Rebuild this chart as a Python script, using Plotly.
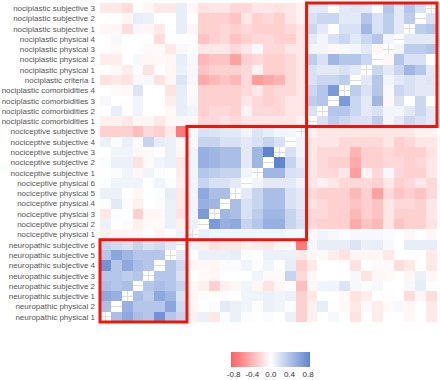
import plotly.graph_objects as go

# variable labels, bottom (index 0) to top (index 30); same order on x (left to right)
labels = [
    "neuropathic physical 1", "neuropathic physical 2",
    "neuropathic subjective 1", "neuropathic subjective 2", "neuropathic subjective 3",
    "neuropathic subjective 4", "neuropathic subjective 5", "neuropathic subjective 6",
    "nociceptive physical 1", "nociceptive physical 2", "nociceptive physical 3",
    "nociceptive physical 4", "nociceptive physical 5", "nociceptive physical 6",
    "nociceptive subjective 1", "nociceptive subjective 2", "nociceptive subjective 3",
    "nociceptive subjective 4", "nociceptive subjective 5",
    "nociplastic comorbidities 1", "nociplastic comorbidities 2",
    "nociplastic comorbidities 3", "nociplastic comorbidities 4",
    "nociplastic criteria 1",
    "nociplastic physical 1", "nociplastic physical 2", "nociplastic physical 3",
    "nociplastic physical 4",
    "nociplastic subjective 1", "nociplastic subjective 2", "nociplastic subjective 3",
]

# group sizes (for the outlined blocks)
group_names = ["neuropathic", "nociceptive", "nociplastic"]
group_sizes = [8, 11, 12]

# lower triangle of the correlation matrix: row i holds correlations with columns 0..i-1
corr_lower = [
    [],
    [0.45],
    [0.60, 0.55],
    [0.45, 0.40, 0.45],
    [0.40, 0.40, 0.35, 0.40],
    [0.75, 0.40, 0.60, 0.45, 0.40],
    [0.40, 0.62, 0.50, 0.40, 0.40, 0.40],
    [0.30, 0.25, 0.20, 0.30, 0.20, 0.25, 0.15],
    # nociceptive physical 1 .. subjective 5
    [-0.08, -0.05, -0.05, -0.05, 0.00, -0.05, 0.00, 0.08],
    [0.10, 0.00, 0.02, -0.08, -0.03, -0.03, 0.10, -0.08, 0.10],
    [-0.12, 0.02, 0.00, -0.25, -0.05, -0.05, 0.10, -0.15, 0.08, 0.70],
    [0.02, 0.15, 0.02, -0.08, 0.00, 0.02, 0.10, -0.12, 0.08, 0.55, 0.50],
    [0.10, 0.10, 0.00, -0.05, 0.00, 0.02, 0.12, -0.12, 0.08, 0.60, 0.45, 0.45],
    [0.02, 0.08, 0.08, 0.08, 0.00, 0.08, 0.02, -0.08, 0.08, 0.30, 0.20, 0.20, 0.15],
    [0.00, 0.02, 0.08, -0.05, 0.08, 0.02, 0.00, -0.10, 0.08, 0.40, 0.35, 0.30, 0.30, 0.08],
    [0.02, 0.10, 0.10, -0.15, -0.03, 0.08, 0.10, -0.12, 0.08, 0.55, 0.50, 0.45, 0.45, 0.15, 0.50],
    [0.00, 0.08, 0.08, -0.05, -0.03, 0.00, 0.10, -0.05, 0.08, 0.55, 0.50, 0.45, 0.45, 0.15, 0.50, 0.85],
    [0.10, 0.02, 0.10, 0.02, 0.30, 0.12, 0.10, -0.03, 0.05, 0.30, 0.30, 0.20, 0.20, 0.15, 0.20, 0.30, 0.20],
    [-0.25, -0.25, -0.25, -0.35, -0.20, -0.25, -0.12, -0.70, 0.05, 0.20, 0.18, 0.15, 0.15, 0.08, 0.18, 0.12, 0.08, 0.08],
    # nociplastic comorbidities 1 .. subjective 3
    [-0.08, -0.08, -0.12, -0.05, -0.05, -0.12, -0.05, 0.05,
     -0.05, -0.20, -0.20, -0.15, -0.20, -0.13, -0.13, -0.13, -0.13, -0.13, -0.07],
    [0.00, 0.12, 0.00, 0.08, 0.00, 0.00, -0.03, 0.12,
     0.08, -0.25, -0.20, -0.20, -0.25, -0.07, -0.20, -0.20, -0.20, -0.13, -0.13, 0.20],
    [0.05, 0.00, 0.00, 0.08, 0.00, 0.00, -0.10, 0.12,
     0.05, -0.25, -0.25, -0.25, -0.25, -0.13, -0.20, -0.25, -0.20, -0.13, -0.13, 0.35, 0.40],
    [0.00, -0.03, -0.03, 0.18, 0.00, 0.00, -0.15, 0.12,
     0.03, -0.25, -0.25, -0.25, -0.25, -0.20, -0.13, -0.25, -0.20, -0.20, -0.13, 0.28, 0.40, 0.70],
    [-0.15, -0.12, -0.15, 0.05, 0.05, -0.15, -0.05, 0.18,
     0.05, -0.45, -0.38, -0.32, -0.38, -0.20, -0.52, -0.45, -0.40, -0.20, -0.13, 0.20, 0.28, 0.28, 0.35],
    [0.00, -0.03, -0.10, 0.03, -0.15, 0.00, -0.05, 0.10,
     0.05, -0.32, -0.25, -0.25, -0.25, -0.20, -0.07, -0.25, -0.25, -0.20, -0.13, 0.20, 0.15, 0.15, 0.20, 0.15],
    [-0.10, -0.10, 0.00, 0.05, -0.05, -0.03, -0.05, 0.12,
     0.05, -0.38, -0.32, -0.32, -0.50, -0.25, -0.20, -0.25, -0.25, -0.20, -0.13, 0.35, 0.20, 0.50, 0.40, 0.40, 0.28],
    [0.00, -0.03, 0.00, 0.00, -0.03, -0.03, -0.12, 0.05,
     0.03, -0.13, -0.13, -0.13, -0.20, -0.13, 0.05, -0.20, -0.20, -0.13, -0.13, 0.07, 0.07, -0.04, 0.04, 0.07, 0.15, -0.04],
    [0.00, 0.05, 0.00, 0.00, 0.00, -0.18, 0.00, 0.00,
     0.00, -0.32, -0.25, -0.20, -0.32, -0.25, -0.20, -0.20, -0.25, -0.25, -0.13, 0.15, 0.07, 0.20, 0.28, 0.15, 0.28, 0.40, 0.07],
    [-0.05, -0.05, -0.18, 0.05, -0.05, -0.12, 0.00, 0.12,
     -0.05, -0.25, -0.25, -0.20, -0.25, -0.20, -0.25, -0.25, -0.25, -0.20, -0.13, 0.28, 0.15, 0.00, 0.20, 0.20, 0.50, 0.20, 0.35, 0.15],
    [0.00, 0.00, -0.05, 0.12, 0.10, 0.00, 0.00, 0.12,
     0.00, -0.25, -0.25, -0.25, -0.32, -0.13, -0.25, -0.20, -0.25, -0.13, -0.07, 0.20, 0.28, 0.28, 0.15, 0.15, 0.40, 0.20, 0.35, 0.15, 0.35],
    [-0.12, -0.12, -0.18, 0.00, -0.05, -0.12, -0.12, 0.12,
     -0.05, -0.15, -0.13, -0.13, -0.20, -0.20, -0.13, -0.13, -0.15, -0.13, -0.07, 0.15, 0.15, 0.00, 0.15, 0.17, 0.15, 0.00, 0.40, 0.15, 0.40, 0.20],
]

colorbar_ticks = [-0.8, -0.4, 0.0, 0.4, 0.8]
colorbar_ticktext = ["-0.8", "-0.4", "0.0", "0.4", "0.8"]

# build full symmetric matrix (diagonal left blank)
n = len(labels)
z = []
for i in range(n):
    row = []
    for j in range(n):
        if i == j:
            row.append(None)
        elif j < i:
            row.append(corr_lower[i][j])
        else:
            row.append(corr_lower[j][i])
    z.append(row)

FONT = "Liberation Sans, Arial, sans-serif"
TEXT = "#555555"

fig = go.Figure(go.Heatmap(
    z=z, x=labels, y=labels,
    zmin=-0.85, zmax=0.85,
    colorscale=[[0, "#FF5F5F"], [0.5, "#FFFFFF"], [1, "#5F85D0"]],
    xgap=0, ygap=0,
    hoverongaps=False,
    colorbar=dict(
        orientation="h", thickness=15, len=79, lenmode="pixels",
        x=0.507, xanchor="center", y=-0.094, yanchor="top", ypad=0, xpad=0,
        outlinewidth=0, ticks="", tickvals=colorbar_ticks, ticktext=colorbar_ticktext,
        tickfont=dict(size=8, color="#333333", family=FONT),
    ),
))

# outlined blocks in paper coordinates
shapes = []
start = 0
for size in group_sizes:
    a = start / n
    b = (start + size) / n
    shapes.append(dict(type="rect", xref="paper", yref="paper", x0=a, x1=b, y0=a, y1=b,
                       line=dict(color="#F0140A", width=3), fillcolor="rgba(0,0,0,0)", layer="above"))
    start += size

fig.update_layout(
    template="none",
    width=440, height=380,
    margin=dict(l=100, r=3, t=3, b=58, autoexpand=False),
    paper_bgcolor="white", plot_bgcolor="white",
    font=dict(family=FONT, size=8, color=TEXT),
    shapes=shapes,
    xaxis=dict(showticklabels=False, showgrid=True, gridcolor="#DDDDDD", gridwidth=1, ticks="",
               showline=False, zeroline=False, automargin=False),
    yaxis=dict(showgrid=True, gridcolor="#DDDDDD", gridwidth=1, ticks="", showline=False, zeroline=False,
               tickfont=dict(size=8, color=TEXT, family=FONT), ticklabelstandoff=4,
               automargin=False),
)

fig.write_html(
    "out.html",
    config={"displayModeBar": False},
    post_script="document.body.style.margin='0';document.body.style.padding='0';",
)
